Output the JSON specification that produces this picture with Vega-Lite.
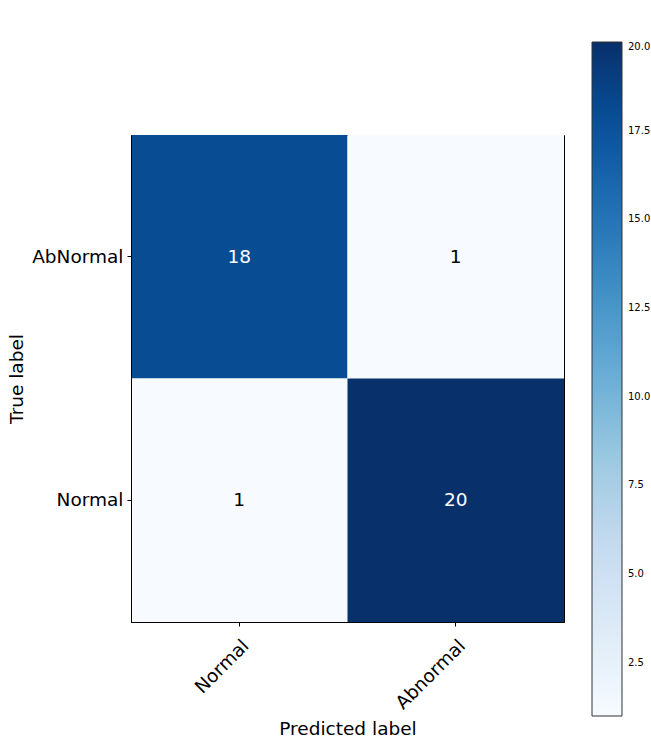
{
  "$schema": "https://vega.github.io/schema/vega-lite/v6.json",
  "width": 433,
  "height": 487,
  "autosize": {"type": "none"},
  "padding": {"left": 131, "top": 135, "right": 87, "bottom": 120},
  "background": "white",
  "config": {
    "font": "DejaVu Sans",
    "view": {"stroke": "black", "strokeWidth": 1}
  },
  "data": {
    "values": [
      {"true": "AbNormal", "pred": "Normal", "count": 18},
      {"true": "AbNormal", "pred": "Abnormal", "count": 1},
      {"true": "Normal", "pred": "Normal", "count": 1},
      {"true": "Normal", "pred": "Abnormal", "count": 20}
    ]
  },
  "encoding": {
    "x": {
      "field": "pred",
      "type": "nominal",
      "sort": ["Normal", "Abnormal"],
      "scale": {"paddingInner": 0, "paddingOuter": 0},
      "axis": {
        "title": "Predicted label",
        "titleFontSize": 18.5,
        "titleFontWeight": "normal",
        "titleColor": "black",
        "titlePadding": 7,
        "labelAngle": -45,
        "labelAlign": "right",
        "labelBaseline": "top",
        "labelFontSize": 18.5,
        "labelColor": "black",
        "labelPadding": 10,
        "tickColor": "black",
        "tickSize": 4,
        "domain": true,
        "domainColor": "black",
        "zindex": 1
      }
    },
    "y": {
      "field": "true",
      "type": "nominal",
      "sort": ["AbNormal", "Normal"],
      "scale": {"paddingInner": 0, "paddingOuter": 0},
      "axis": {
        "title": "True label",
        "titleFontSize": 18.5,
        "titleFontWeight": "normal",
        "titleColor": "black",
        "titlePadding": 5,
        "labelFontSize": 18.5,
        "labelColor": "black",
        "labelPadding": 4,
        "tickColor": "black",
        "tickSize": 4,
        "domain": true,
        "domainColor": "black",
        "zindex": 1
      }
    }
  },
  "layer": [
    {
      "mark": {"type": "rect"},
      "encoding": {
        "color": {
          "field": "count",
          "type": "quantitative",
          "scale": {
            "domain": [1, 20],
            "range": ["#f7fbff", "#deebf7", "#c6dbef", "#9ecae1", "#6baed6", "#4292c6", "#2171b5", "#08519c", "#08306b"],
            "interpolate": "rgb"
          },
          "legend": {
            "title": null,
            "orient": "none",
            "legendX": 461,
            "legendY": -93,
            "direction": "vertical",
            "gradientLength": 674,
            "gradientThickness": 30,
            "gradientStrokeColor": "#333333",
            "gradientStrokeWidth": 1,
            "values": [2.5, 5, 7.5, 10, 12.5, 15, 17.5, 20],
            "format": ".1f",
            "labelFontSize": 10,
            "labelColor": "black",
            "labelOffset": 6
          }
        }
      }
    },
    {
      "mark": {"type": "text", "fontSize": 18.5},
      "encoding": {
        "text": {"field": "count", "type": "quantitative"},
        "color": {
          "condition": {"test": "datum.count > 10", "value": "white"},
          "value": "black"
        }
      }
    }
  ]
}
